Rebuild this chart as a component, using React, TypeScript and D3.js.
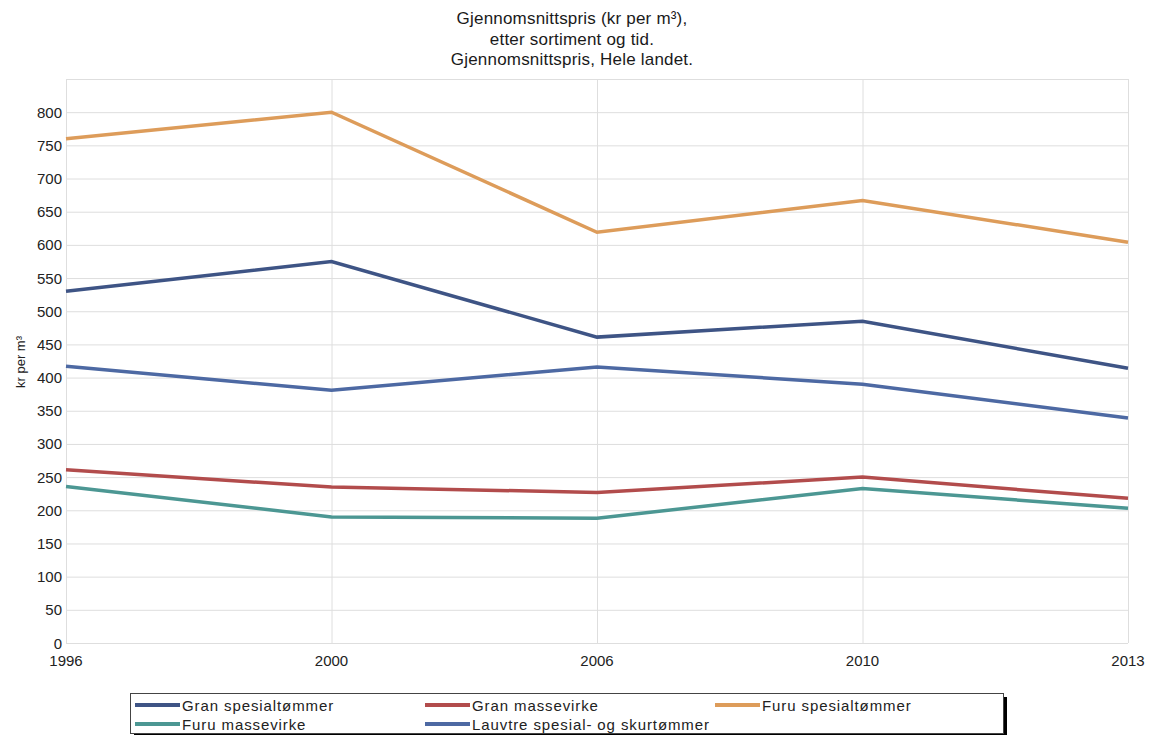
import React, { useEffect, useRef } from 'react'
import * as d3 from 'd3'

const years = ['1996', '2000', '2006', '2010', '2013']
const granSpesial = [530, 575, 461, 485, 414]
const granMasse = [261, 235, 227, 250, 218]
const furuSpesial = [760, 800, 619, 667, 604]
const furuMasse = [236, 190, 188, 233, 203]
const lauvtre = [417, 381, 416, 390, 339]
const seriesNames = [
  'Gran spesialtømmer',
  'Gran massevirke',
  'Furu spesialtømmer',
  'Furu massevirke',
  'Lauvtre spesial- og skurtømmer'
]
const yTicks = [0, 50, 100, 150, 200, 250, 300, 350, 400, 450, 500, 550, 600, 650, 700, 750, 800]

const colors = ['#3e5485', '#b24c4c', '#dd9c5a', '#4c9793', '#4d69a3']

function App() {
  const ref = useRef<SVGSVGElement>(null)

  useEffect(() => {
    const svg = d3.select(ref.current)
    svg.selectAll('*').remove()

    const left = 66,
      right = 1128,
      top = 79,
      bottom = 643
    const font = 'Liberation Sans, Arial, sans-serif'

    const x = d3.scalePoint().domain(years).range([left, right])
    const y = d3.scaleLinear().domain([0, 850]).range([bottom, top])

    // title
    const title = [
      'Gjennomsnittspris (kr per m³),',
      'etter sortiment og tid.',
      'Gjennomsnittspris, Hele landet.'
    ]
    svg
      .selectAll('.title')
      .data(title)
      .enter()
      .append('text')
      .attr('x', 572)
      .attr('y', (d, i) => 24 + i * 20.5)
      .attr('text-anchor', 'middle')
      .attr('font-family', font)
      .attr('font-size', 17)
      .attr('letter-spacing', 0.2)
      .attr('fill', '#1a1a1a')
      .text(d => d)

    // grid
    svg
      .append('g')
      .selectAll('line')
      .data(yTicks.concat([850]))
      .enter()
      .append('line')
      .attr('x1', left)
      .attr('x2', right)
      .attr('y1', d => y(d) + 0.5)
      .attr('y2', d => y(d) + 0.5)
      .attr('stroke', '#dedede')
    svg
      .append('g')
      .selectAll('line')
      .data(years)
      .enter()
      .append('line')
      .attr('x1', d => x(d)! + 0.5)
      .attr('x2', d => x(d)! + 0.5)
      .attr('y1', top)
      .attr('y2', bottom)
      .attr('stroke', '#dedede')

    // y tick labels
    svg
      .append('g')
      .selectAll('text')
      .data(yTicks)
      .enter()
      .append('text')
      .attr('x', 62)
      .attr('y', d => y(d) + 5.5)
      .attr('text-anchor', 'end')
      .attr('font-family', font)
      .attr('font-size', 15)
      .attr('fill', '#222')
      .text(d => d)

    // x tick labels
    svg
      .append('g')
      .selectAll('text')
      .data(years)
      .enter()
      .append('text')
      .attr('x', d => x(d)!)
      .attr('y', 666)
      .attr('text-anchor', 'middle')
      .attr('font-family', font)
      .attr('font-size', 15)
      .attr('fill', '#222')
      .text(d => d)

    // y label
    svg
      .append('text')
      .attr('transform', 'translate(25,362) rotate(-90)')
      .attr('text-anchor', 'middle')
      .attr('font-family', font)
      .attr('font-size', 13)
      .attr('fill', '#222')
      .text('kr per m³')

    const allSeries = [granSpesial, granMasse, furuSpesial, furuMasse, lauvtre]
    const line = d3
      .line<number>()
      .x((d, i) => x(years[i])!)
      .y(d => y(d))

    // draw order: back to front
    const order = [4, 3, 1, 0, 2]
    order.forEach(k => {
      svg
        .append('path')
        .datum(allSeries[k])
        .attr('d', line)
        .attr('fill', 'none')
        .attr('stroke', colors[k])
        .attr('stroke-width', 3.5)
    })

    // legend
    const lg = svg.append('g')
    lg.append('rect')
      .attr('x', 134)
      .attr('y', 697)
      .attr('width', 873)
      .attr('height', 38)
      .attr('fill', '#000')
    lg.append('rect')
      .attr('x', 130.5)
      .attr('y', 693.5)
      .attr('width', 873)
      .attr('height', 40)
      .attr('fill', '#fff')
      .attr('stroke', '#444')
    const item = lg
      .selectAll('.item')
      .data(seriesNames)
      .enter()
      .append('g')
      .attr('transform', (d, i) => 'translate(' + (135 + (i % 3) * 290) + ',' + (705 + Math.floor(i / 3) * 19) + ')')
    item
      .append('line')
      .attr('x1', 0)
      .attr('x2', 45)
      .attr('stroke', (d, i) => colors[i])
      .attr('stroke-width', 4)
    item
      .append('text')
      .attr('x', 47)
      .attr('y', 5.5)
      .attr('font-family', font)
      .attr('font-size', 15)
      .attr('letter-spacing', 0.9)
      .attr('fill', '#222')
      .text(d => d)
  }, [])

  return (
    <svg
      ref={ref}
      width={1149}
      height={735}
      style={{ position: 'absolute', left: 0, top: 0, background: '#fff' }}
    ></svg>
  )
}

export default App
